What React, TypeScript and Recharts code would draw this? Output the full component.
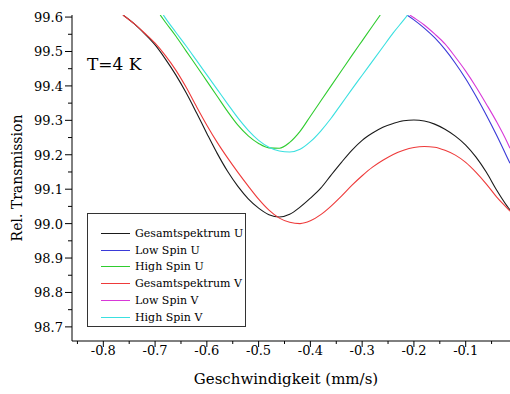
import React from 'react';
import { LineChart, Line, XAxis, YAxis, Label } from 'recharts';

// velocity (mm/s) and relative transmission (%)
const gesamtU_x = [-0.762, -0.74, -0.72, -0.7, -0.68, -0.66, -0.64, -0.62, -0.6, -0.58, -0.56, -0.54, -0.52, -0.5, -0.48, -0.46, -0.44, -0.42, -0.4, -0.38, -0.36, -0.34, -0.32, -0.3, -0.28, -0.26, -0.24, -0.22, -0.2, -0.18, -0.16, -0.14, -0.12, -0.1, -0.08, -0.06, -0.04, -0.02, -0.0144];
const gesamtU_y = [99.606, 99.58, 99.551, 99.519, 99.478, 99.432, 99.38, 99.322, 99.262, 99.204, 99.152, 99.108, 99.072, 99.045, 99.026, 99.019, 99.027, 99.048, 99.074, 99.103, 99.141, 99.178, 99.213, 99.242, 99.263, 99.28, 99.291, 99.299, 99.301, 99.298, 99.289, 99.274, 99.254, 99.228, 99.193, 99.149, 99.097, 99.051, 99.04];

const gesamtV_x = gesamtU_x;
const gesamtV_y = [99.606, 99.58, 99.553, 99.524, 99.488, 99.446, 99.396, 99.34, 99.286, 99.236, 99.191, 99.149, 99.109, 99.071, 99.039, 99.016, 99.004, 99.0, 99.008, 99.026, 99.051, 99.08, 99.111, 99.139, 99.164, 99.184, 99.201, 99.213, 99.221, 99.224, 99.222, 99.213, 99.199, 99.178, 99.149, 99.115, 99.077, 99.045, 99.036];

const highU_x = [-0.69, -0.68, -0.66, -0.64, -0.62, -0.6, -0.58, -0.56, -0.54, -0.52, -0.5, -0.48, -0.46, -0.44, -0.42, -0.4, -0.38, -0.36, -0.34, -0.32, -0.3, -0.28, -0.265];
const highU_y = [99.606, 99.585, 99.545, 99.501, 99.458, 99.414, 99.37, 99.326, 99.286, 99.255, 99.233, 99.22, 99.219, 99.236, 99.268, 99.312, 99.356, 99.4, 99.444, 99.488, 99.531, 99.574, 99.606];

const highV_x = [-0.684, -0.68, -0.66, -0.64, -0.62, -0.6, -0.58, -0.56, -0.54, -0.52, -0.5, -0.48, -0.46, -0.44, -0.42, -0.4, -0.38, -0.36, -0.34, -0.32, -0.3, -0.28, -0.26, -0.24, -0.22, -0.212];
const highV_y = [99.606, 99.597, 99.556, 99.516, 99.474, 99.432, 99.39, 99.348, 99.307, 99.271, 99.242, 99.222, 99.211, 99.208, 99.216, 99.238, 99.269, 99.306, 99.348, 99.39, 99.431, 99.472, 99.513, 99.554, 99.591, 99.606];

const lowU_x = [-0.2135, -0.2, -0.18, -0.16, -0.14, -0.12, -0.1, -0.08, -0.06, -0.04, -0.02, -0.0144];
const lowU_y = [99.606, 99.592, 99.568, 99.54, 99.506, 99.466, 99.421, 99.37, 99.315, 99.256, 99.193, 99.175];

const lowV_x = [-0.208, -0.2, -0.18, -0.16, -0.14, -0.12, -0.1, -0.08, -0.06, -0.04, -0.02, -0.0144];
const lowV_y = [99.606, 99.598, 99.577, 99.551, 99.522, 99.484, 99.443, 99.397, 99.347, 99.295, 99.237, 99.219];

const xTicks = [-0.85, -0.8, -0.75, -0.7, -0.65, -0.6, -0.55, -0.5, -0.45, -0.4, -0.35, -0.3, -0.25, -0.2, -0.15, -0.1, -0.05];
const yTicks = [98.7, 98.75, 98.8, 98.85, 98.9, 98.95, 99.0, 99.05, 99.1, 99.15, 99.2, 99.25, 99.3, 99.35, 99.4, 99.45, 99.5, 99.55, 99.6];

const FONT = 'DejaVu Serif';
const W = 510;
const H = 394;
const PLOT_LEFT = 72;
const PLOT_TOP = 15;
const PLOT_BOTTOM = 341;

const zip = (xs: number[], ys: number[]) => xs.map((v, i) => ({ v, t: ys[i] }));

const series = [
  { name: 'Gesamtspektrum U', data: zip(gesamtU_x, gesamtU_y), color: '#1a1a1a' },
  { name: 'Low Spin U', data: zip(lowU_x, lowU_y), color: '#3a3ad8' },
  { name: 'High Spin U', data: zip(highU_x, highU_y), color: '#2fcc2f' },
  { name: 'Gesamtspektrum V', data: zip(gesamtV_x, gesamtV_y), color: '#ee3a3a' },
  { name: 'Low Spin V', data: zip(lowV_x, lowV_y), color: '#d838d8' },
  { name: 'High Spin V', data: zip(highV_x, highV_y), color: '#3ae0e0' },
];

const isMajor = (v: number) => Math.abs(v * 10 - Math.round(v * 10)) < 1e-6;

const XTick = (props: any) => {
  const { x, payload } = props;
  const v = payload.value;
  const major = isMajor(v);
  return (
    <g>
      <line x1={x} x2={x} y1={PLOT_BOTTOM} y2={PLOT_BOTTOM + (major ? 6 : 3)} stroke="#000" />
      {major && (
        <text x={x} y={355} textAnchor="middle" fontFamily={FONT} fontSize={13} fill="#000">
          {v.toFixed(1)}
        </text>
      )}
    </g>
  );
};

const YTick = (props: any) => {
  const { y, payload } = props;
  const v = payload.value;
  const major = isMajor(v);
  return (
    <g>
      <line x1={PLOT_LEFT - (major ? 7 : 4)} x2={PLOT_LEFT} y1={y} y2={y} stroke="#000" />
      {major && (
        <text x={63} y={y + 5} textAnchor="end" fontFamily={FONT} fontSize={13} fill="#000">
          {v.toFixed(1)}
        </text>
      )}
    </g>
  );
};

const LegendBox = () => (
  <div
    style={{
      position: 'absolute',
      left: 87,
      top: 213,
      border: '1px solid #333',
      background: '#fff',
      width: 157,
      height: 101,
      paddingTop: 11,
      fontFamily: FONT,
      fontSize: 11,
      color: '#000',
    }}
  >
    {series.map((s) => (
      <div key={s.name} style={{ display: 'flex', alignItems: 'center', height: 16.8, whiteSpace: 'nowrap' }}>
        <span
          style={{
            display: 'inline-block',
            flexShrink: 0,
            marginLeft: 13,
            width: 29,
            height: 0,
            borderTop: `1px solid ${s.color}`,
          }}
        />
        <span style={{ marginLeft: 5 }}>{s.name}</span>
      </div>
    ))}
  </div>
);

export default function App() {
  return (
    <div style={{ position: 'absolute', left: 0, top: 0, width: W, height: H, background: '#fff', fontFamily: FONT }}>
      <LineChart width={W} height={H} margin={{ top: PLOT_TOP, right: 0, bottom: 0, left: 0 }}>
        <XAxis
          type="number"
          dataKey="v"
          domain={[-0.8605, -0.0144]}
          allowDataOverflow
          ticks={xTicks}
          interval={0}
          tickLine={false}
          tick={<XTick />}
          axisLine={{ stroke: '#000' }}
          height={H - PLOT_BOTTOM}
        >
          <Label
            content={() => (
              <text x={286} y={384} textAnchor="middle" fontFamily={FONT} fontSize={15} fill="#000">
                Geschwindigkeit (mm/s)
              </text>
            )}
          />
        </XAxis>
        <YAxis
          type="number"
          dataKey="t"
          domain={[98.659, 99.606]}
          allowDataOverflow
          ticks={yTicks}
          interval={0}
          tickLine={false}
          tick={<YTick />}
          axisLine={{ stroke: '#000' }}
          width={PLOT_LEFT}
        >
          <Label
            content={() => (
              <text transform="translate(22,178) rotate(-90)" textAnchor="middle" fontFamily={FONT} fontSize={14} fill="#000">
                Rel. Transmission
              </text>
            )}
          />
        </YAxis>
        {series.map((s) => (
          <Line
            key={s.name}
            data={s.data}
            dataKey="t"
            name={s.name}
            type="monotone"
            stroke={s.color}
            strokeWidth={1.1}
            dot={false}
            isAnimationActive={false}
          />
        ))}
      </LineChart>
      <LegendBox />
      <svg width={W} height={H} style={{ position: 'absolute', left: 0, top: 0, pointerEvents: 'none' }}>
        <text x={87} y={70} fontFamily={FONT} fontSize={17} fill="#000">
          T=4 K
        </text>
      </svg>
    </div>
  );
}
